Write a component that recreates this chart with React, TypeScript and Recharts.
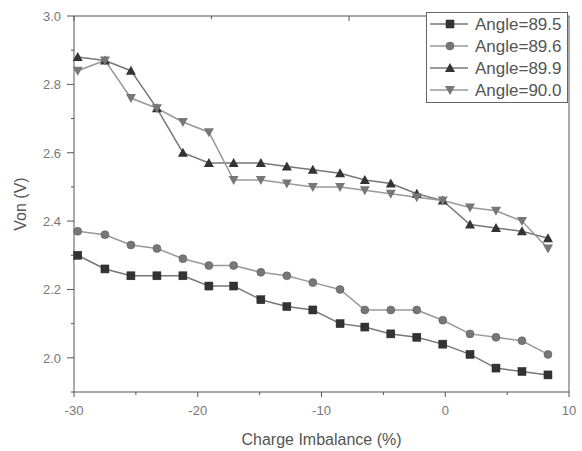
import React from "react";
import { LineChart, Line, XAxis, YAxis } from "recharts";

// charge imbalance (%) for each measured point
const chargeImbalance = [
  -29.7, -27.5, -25.4, -23.3, -21.2, -19.1, -17.1, -14.9, -12.8, -10.7,
  -8.5, -6.5, -4.4, -2.3, -0.2, 2.0, 4.1, 6.2, 8.3,
];

const von895 = [
  2.3, 2.26, 2.24, 2.24, 2.24, 2.21, 2.21, 2.17, 2.15, 2.14, 2.1, 2.09, 2.07,
  2.06, 2.04, 2.01, 1.97, 1.96, 1.95,
];
const von896 = [
  2.37, 2.36, 2.33, 2.32, 2.29, 2.27, 2.27, 2.25, 2.24, 2.22, 2.2, 2.14, 2.14,
  2.14, 2.11, 2.07, 2.06, 2.05, 2.01,
];
const von899 = [
  2.88, 2.87, 2.84, 2.73, 2.6, 2.57, 2.57, 2.57, 2.56, 2.55, 2.54, 2.52, 2.51,
  2.48, 2.46, 2.39, 2.38, 2.37, 2.35,
];
const von900 = [
  2.84, 2.87, 2.76, 2.73, 2.69, 2.66, 2.52, 2.52, 2.51, 2.5, 2.5, 2.49, 2.48,
  2.47, 2.46, 2.44, 2.43, 2.4, 2.32,
];

const xTicks = [-30, -25, -20, -15, -10, -5, 0, 5, 10];
const yTicks = [1.9, 2.0, 2.1, 2.2, 2.3, 2.4, 2.5, 2.6, 2.7, 2.8, 2.9, 3.0];

const series = [
  { key: "a895", name: "Angle=89.5", values: von895, shape: "square", fill: "#333", line: "#777" },
  { key: "a896", name: "Angle=89.6", values: von896, shape: "circle", fill: "#777", line: "#999" },
  { key: "a899", name: "Angle=89.9", values: von899, shape: "up", fill: "#333", line: "#777" },
  { key: "a900", name: "Angle=90.0", values: von900, shape: "down", fill: "#777", line: "#999" },
];

const data = chargeImbalance.map((x, i) => {
  const row: any = { x };
  series.forEach((s) => (row[s.key] = s.values[i]));
  return row;
});

const FONT = "'Liberation Sans', Arial, sans-serif";
const AXIS = "#555";
const TEXT = "#777";

const Marker = ({ cx, cy, shape, fill }: any) => {
  if (cx == null || cy == null) return null;
  if (shape === "square")
    return <rect x={cx - 4} y={cy - 4} width={8} height={8} fill={fill} stroke="#222" strokeWidth={0.5} />;
  if (shape === "circle") return <circle cx={cx} cy={cy} r={4} fill={fill} stroke="#555" strokeWidth={0.5} />;
  if (shape === "up")
    return <polygon points={`${cx},${cy - 5} ${cx + 5},${cy + 4} ${cx - 5},${cy + 4}`} fill={fill} />;
  return <polygon points={`${cx},${cy + 5} ${cx + 5},${cy - 4} ${cx - 5},${cy - 4}`} fill={fill} />;
};

const isMajorY = (v: number) => Math.round(v * 10) % 2 === 0;
const isMajorX = (v: number) => v % 10 === 0;

const LeftTick = ({ x, y, payload }: any) => {
  const major = isMajorY(payload.value);
  return (
    <g>
      <line x1={x - (major ? 7 : 3)} x2={x} y1={y} y2={y} stroke={AXIS} />
      {major && (
        <text x={x - 13} y={y + 5} textAnchor="end" fontSize={13} fill={TEXT} fontFamily={FONT}>
          {payload.value.toFixed(1)}
        </text>
      )}
    </g>
  );
};

const RightTick = ({ x, y, payload }: any) => {
  const major = isMajorY(payload.value);
  return <line x1={x} x2={x - (major ? 6 : 3)} y1={y} y2={y} stroke={AXIS} />;
};

const BottomTick = ({ x, y, payload }: any) => {
  const major = isMajorX(payload.value);
  return (
    <g>
      <line x1={x} x2={x} y1={y} y2={y + (major ? 5 : 3)} stroke={AXIS} />
      {major && (
        <text x={x} y={y + 23} textAnchor="middle" fontSize={13} fill={TEXT} fontFamily={FONT}>
          {payload.value}
        </text>
      )}
    </g>
  );
};

const TopTick = ({ x, y, payload }: any) => {
  const major = isMajorX(payload.value);
  return <line x1={x} x2={x} y1={y} y2={y + (major ? 5 : 3)} stroke={AXIS} />;
};

const LegendBox = () => (
  <div
    style={{
      position: "absolute",
      left: 426,
      top: 12,
      width: 140,
      height: 89,
      border: "1px solid #666",
      background: "#fff",
    }}
  >
    <svg width={140} height={89}>
      {series.map((s, i) => {
        const cy = 11 + i * 22;
        return (
          <g key={s.key}>
            <line x1={3} x2={41} y1={cy} y2={cy} stroke={s.line} strokeWidth={1.5} />
            <Marker cx={23} cy={cy} shape={s.shape} fill={s.fill} />
            <text x={48} y={cy + 6} fontSize={17} fill="#555" fontFamily={FONT}>
              {s.name}
            </text>
          </g>
        );
      })}
    </svg>
  </div>
);

export default function App() {
  return (
    <div style={{ position: "absolute", left: 0, top: 0, width: 582, height: 451, background: "#fff" }}>
      <LineChart width={582} height={451} data={data} margin={{ top: 0, right: 0, bottom: 0, left: 0 }}>
        <XAxis
          dataKey="x"
          type="number"
          domain={[-30, 10]}
          ticks={xTicks}
          height={59}
          stroke={AXIS}
          tickLine={false}
          tickSize={0}
          tickMargin={0}
          tick={<BottomTick />}
          label={{ value: "Charge Imbalance (%)", position: "insideBottom", offset: 6, fontSize: 16, fill: "#555", fontFamily: FONT }}
        />
        <XAxis
          xAxisId="top"
          orientation="top"
          type="number"
          domain={[-30, 10]}
          ticks={xTicks}
          height={16}
          stroke={AXIS}
          tickLine={false}
          tickSize={0}
          tickMargin={0}
          tick={<TopTick />}
        />
        <YAxis
          type="number"
          domain={[1.9, 3.0]}
          ticks={yTicks}
          width={74}
          stroke={AXIS}
          tickLine={false}
          tickSize={0}
          tickMargin={0}
          tick={<LeftTick />}
          label={{ value: "Von (V)", angle: -90, position: "insideLeft", offset: 20, fontSize: 16, fill: "#555", fontFamily: FONT, style: { textAnchor: "middle" } }}
        />
        <YAxis
          yAxisId="right"
          orientation="right"
          type="number"
          domain={[1.9, 3.0]}
          ticks={yTicks}
          width={13}
          stroke={AXIS}
          tickLine={false}
          tickSize={0}
          tickMargin={0}
          tick={<RightTick />}
        />
        {series.map((s) => (
          <Line
            key={s.key}
            dataKey={s.key}
            name={s.name}
            stroke={s.line}
            strokeWidth={1.5}
            isAnimationActive={false}
            dot={(p: any) => <Marker key={`${s.key}-${p.index}`} cx={p.cx} cy={p.cy} shape={s.shape} fill={s.fill} />}
            activeDot={false}
          />
        ))}
      </LineChart>
      <LegendBox />
    </div>
  );
}
